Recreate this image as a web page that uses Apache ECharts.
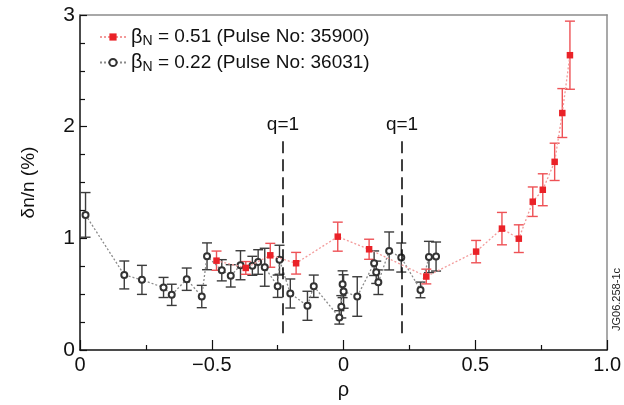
<!DOCTYPE html>
<html><head><meta charset="utf-8">
<script src="https://cdn.jsdelivr.net/npm/echarts@6/dist/echarts.min.js"></script>
<style>html,body{margin:0;padding:0;background:#fff}#c{width:624px;height:405px}</style>
</head><body><div id="c"></div>
<script>
// ---- data ----
var blackX = [-0.979,-0.832,-0.765,-0.683,-0.652,-0.595,-0.538,-0.518,-0.462,-0.428,-0.391,-0.346,-0.324,-0.299,-0.25,-0.243,-0.202,-0.137,-0.113,-0.016,-0.0085,-0.0036,0.0002,0.052,0.116,0.124,0.132,0.173,0.219,0.292,0.324,0.351];
var blackY = [1.21,0.672,0.628,0.56,0.494,0.634,0.479,0.839,0.714,0.664,0.759,0.754,0.788,0.741,0.571,0.808,0.506,0.396,0.571,0.292,0.387,0.589,0.524,0.479,0.777,0.696,0.607,0.887,0.828,0.538,0.833,0.837];
var blackErr = [0.2,0.125,0.13,0.09,0.095,0.1,0.1,0.12,0.095,0.1,0.13,0.085,0.11,0.17,0.1,0.13,0.13,0.13,0.1,0.06,0.1,0.12,0.15,0.177,0.11,0.1,0.11,0.17,0.13,0.07,0.14,0.13];
var redX = [-0.482,-0.371,-0.278,-0.18,-0.022,0.097,0.314,0.503,0.601,0.665,0.718,0.756,0.801,0.83,0.859];
var redY = [0.80,0.735,0.848,0.777,1.015,0.902,0.658,0.881,1.087,0.997,1.328,1.435,1.685,2.122,2.64];
var redErr = [0.086,0.057,0.107,0.097,0.13,0.09,0.066,0.1,0.145,0.124,0.132,0.143,0.167,0.219,0.305];
var qX = [-0.23, 0.222];
var qSpan = [0.15, 1.88];
var xTickValues = [-1,-0.5,0,0.5,1];
var xTickLabels = ['0','\u22120.5','0','0.5','1.0'];
var yTickLabels = ['0','1','2','3'];
var legendNames = ['\u03b2N = 0.51 (Pulse No: 35900)','\u03b2N = 0.22 (Pulse No: 36031)'];
var legendRich = [['0.51','35900'],['0.22','36031']];

var FONT = 'Liberation Sans, Arial, sans-serif';
var RED = '#ea2228', REDBAR = '#ee5256', REDLINE = '#f39a9a';
var BLK = '#333333', BLKBAR = '#3c3c3c', BLKLINE = '#8a8a8a';

function zip(xs, ys){ return xs.map(function(x,i){return [x, ys[i]];}); }
function errData(xs, ys, es){ return xs.map(function(x,i){return [x, ys[i]-es[i], ys[i]+es[i]];}); }
function errRender(color){
  return function(params, api){
    var x = api.value(0), lo = api.value(1), hi = api.value(2);
    var p1 = api.coord([x, lo]), p2 = api.coord([x, hi]);
    var w = 5, st = {stroke: color, lineWidth: 1.4};
    return {type:'group', children:[
      {type:'line', shape:{x1:p1[0],y1:p1[1],x2:p2[0],y2:p2[1]}, style:st},
      {type:'line', shape:{x1:p1[0]-w,y1:p1[1],x2:p1[0]+w,y2:p1[1]}, style:st},
      {type:'line', shape:{x1:p2[0]-w,y1:p2[1],x2:p2[0]+w,y2:p2[1]}, style:st}
    ]};
  };
}

var chart = echarts.init(document.getElementById('c'), null, {renderer:'canvas'});
var qLines = qX.map(function(x){
  return [{coord:[x, qSpan[0]]}, {coord:[x, qSpan[1]], label:{show:true, position:'end', formatter:'q=1', fontSize:19, fontFamily:FONT, color:'#111', distance:6}}];
});

var option = {
  animation:false,
  textStyle:{fontFamily:FONT},
  grid:{left:80, right:15, top:15, bottom:54},
  legend:{
    orient:'vertical', left:94, top:22, itemGap:4, itemWidth:26, itemHeight:9,
    data:legendNames,
    formatter:function(name){
      var i = legendNames.indexOf(name);
      return '{g|\u03b2}{s|N}{t| = '+legendRich[i][0]+' (Pulse No: '+legendRich[i][1]+')}';
    },
    textStyle:{fontFamily:FONT, color:'#111', rich:{
      g:{fontSize:20, fontFamily:FONT, color:'#111'},
      s:{fontSize:14, fontFamily:FONT, color:'#111', padding:[9,0,0,0]},
      t:{fontSize:19, fontFamily:FONT, color:'#111'}
    }}
  },
  xAxis:[{
    type:'value', min:-1, max:1, interval:0.5,
    name:'\u03c1', nameLocation:'middle', nameGap:30,
    nameTextStyle:{fontSize:20, fontFamily:FONT, color:'#111'},
    axisLine:{onZero:false, lineStyle:{color:'#111', width:1.5}},
    axisTick:{inside:true, length:10, lineStyle:{color:'#111', width:1.2}},
    minorTick:{show:true, splitNumber:2, length:5, lineStyle:{color:'#111', width:1.2}},
    splitLine:{show:false},
    axisLabel:{fontSize:20, color:'#111', fontFamily:FONT, margin:5,
      formatter:function(v){ var i = xTickValues.indexOf(Math.round(v*100)/100); return i>=0 ? xTickLabels[i] : ''; }}
  },{
    type:'value', min:-1, max:1, position:'top',
    axisLine:{show:true, onZero:false, lineStyle:{color:'#8c8c8c', width:1.5}},
    axisTick:{show:false}, axisLabel:{show:false}, splitLine:{show:false}
  }],
  yAxis:[{
    type:'value', min:0, max:3, interval:1,
    name:'\u03b4n/n (%)', nameLocation:'middle', nameGap:42, nameRotate:90,
    nameTextStyle:{fontSize:19, fontFamily:FONT, color:'#111'},
    axisLine:{onZero:false, lineStyle:{color:'#111', width:1.5}},
    axisTick:{inside:true, length:7, lineStyle:{color:'#111', width:1.2}},
    minorTick:{show:true, splitNumber:4, length:5, lineStyle:{color:'#111', width:1.2}},
    splitLine:{show:false},
    axisLabel:{fontSize:21, color:'#111', fontFamily:FONT, margin:5,
      formatter:function(v){ return yTickLabels[Math.round(v)] || ''; }}
  },{
    type:'value', min:0, max:3, position:'right',
    axisLine:{show:true, onZero:false, lineStyle:{color:'#8c8c8c', width:1.5}},
    axisTick:{show:false}, axisLabel:{show:false}, splitLine:{show:false}
  }],
  graphic:[{type:'text', right:2, top:268, rotation:Math.PI/2,
    style:{text:'JG06.258-1c', fontSize:11, fontFamily:FONT, fill:'#222'}}],
  series:[
    {type:'custom', name:'berr', renderItem:errRender(BLKBAR), data:errData(blackX, blackY, blackErr), encode:{x:0, y:[1,2]}, z:2, silent:true},
    {type:'custom', name:'rerr', renderItem:errRender(REDBAR), data:errData(redX, redY, redErr), encode:{x:0, y:[1,2]}, z:3, silent:true},
    {type:'line', name:legendNames[1], data:zip(blackX, blackY), symbol:'emptyCircle', symbolSize:6,
      itemStyle:{color:BLK, borderColor:BLK, borderWidth:1.1},
      lineStyle:{color:BLKLINE, width:1.3, type:[2,2]}, z:4,
      markLine:{silent:true, symbol:'none', lineStyle:{color:'#111', width:1.6, type:[12,6]}, data:qLines}},
    {type:'line', name:legendNames[0], data:zip(redX, redY), symbol:'rect', symbolSize:6.5,
      itemStyle:{color:RED}, lineStyle:{color:REDLINE, width:1.3, type:[2,2]}, z:5}
  ]
};
chart.setOption(option);
</script></body></html>
